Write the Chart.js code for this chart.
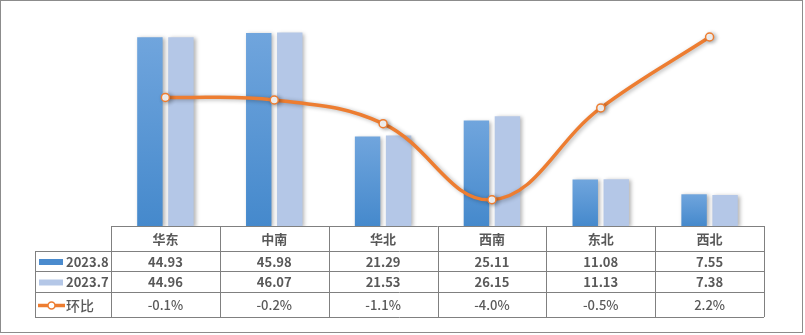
<!DOCTYPE html>
<html>
<head>
<meta charset="utf-8">
<script src="https://cdn.jsdelivr.net/npm/chart.js@4.4.0/dist/chart.umd.min.js"></script>
<style>
  body { margin: 0; background: #fff; }
  #wrap { position: relative; width: 805px; height: 335px; }
  #frame { position: absolute; left: 0; top: 0; width: 801px; height: 331px; border: 1px solid #8c8c8c; }
  #chart { position: absolute; left: 0; top: 0; }
</style>
</head>
<body>
<div id="wrap">
  <div id="frame"></div>
  <canvas id="chart" width="805" height="335"></canvas>
</div>
<script>
const regions = ["华东", "中南", "华北", "西南", "东北", "西北"];
const aug = [44.93, 45.98, 21.29, 25.11, 11.08, 7.55];
const jul = [44.96, 46.07, 21.53, 26.15, 11.13, 7.38];
const mom = [-0.1, -0.2, -1.1, -4.0, -0.5, 2.2];
const seriesNames = ["2023.8", "2023.7", "环比"];

const textColor = "#595959";
const lineColor = "#ED7D31";
const fontFamily = '"Noto Sans CJK SC", "Microsoft YaHei", sans-serif';

// gradient from top of each bar down to the baseline
function darkBar(ctx) {
  const chart = ctx.chart;
  if (!chart.chartArea || ctx.type !== "data") return "#5B9BD5";
  const yScale = chart.scales.y;
  const top = yScale.getPixelForValue(ctx.raw);
  const base = yScale.getPixelForValue(0);
  const g = chart.ctx.createLinearGradient(0, top, 0, base);
  g.addColorStop(0, "#70A5DD");
  g.addColorStop(1, "#4589CC");
  return g;
}

// soft drop shadow like the office chart
const shadowPlugin = {
  id: "shadow",
  beforeDatasetDraw(chart, args) {
    const ctx = chart.ctx;
    ctx.save();
    ctx.shadowColor = "rgba(0,0,0,0.3)";
    ctx.shadowBlur = 4;
    ctx.shadowOffsetX = 2;
    ctx.shadowOffsetY = 1;
  },
  afterDatasetDraw(chart) {
    chart.ctx.restore();
  }
};

// data table under the plot
const tablePlugin = {
  id: "dataTable",
  afterDraw(chart) {
    const ctx = chart.ctx;
    const x = chart.scales.x;
    const area = chart.chartArea;
    const colW = (area.right - area.left) / regions.length;
    const legendLeft = 35;
    const rows = [area.bottom, area.bottom + 25, area.bottom + 45, area.bottom + 66, area.bottom + 91];

    ctx.save();
    ctx.strokeStyle = "#808080";
    ctx.lineWidth = 1;
    ctx.beginPath();
    // horizontal lines
    ctx.moveTo(area.left, rows[0] + 0.5);
    ctx.lineTo(area.right, rows[0] + 0.5);
    for (let r = 1; r < rows.length; r++) {
      ctx.moveTo(legendLeft, rows[r] + 0.5);
      ctx.lineTo(area.right, rows[r] + 0.5);
    }
    // vertical lines
    ctx.moveTo(legendLeft + 0.5, rows[1]);
    ctx.lineTo(legendLeft + 0.5, rows[4]);
    for (let i = 0; i <= regions.length; i++) {
      const px = Math.round(area.left + i * colW) + 0.5;
      ctx.moveTo(px, rows[0]);
      ctx.lineTo(px, rows[4]);
    }
    ctx.stroke();

    ctx.fillStyle = textColor;
    ctx.textAlign = "center";
    ctx.textBaseline = "middle";
    const rowMid = (r) => (rows[r] + rows[r + 1]) / 2 + 1;
    regions.forEach((name, i) => {
      const cx = x.getPixelForValue(i);
      ctx.font = "bold 13px " + fontFamily;
      ctx.fillText(name, cx, rowMid(0));
      ctx.fillText(aug[i].toFixed(2), cx, rowMid(1));
      ctx.fillText(jul[i].toFixed(2), cx, rowMid(2));
      ctx.font = "500 13px " + fontFamily;
      ctx.fillText(mom[i].toFixed(1) + "%", cx, rowMid(3));
    });

    // legend keys
    ctx.fillStyle = "#4A8BCE";
    ctx.fillRect(39, rowMid(1) - 3, 24, 6);
    ctx.fillStyle = "#B4C7E7";
    ctx.fillRect(39, rowMid(2) - 3, 24, 6);
    ctx.strokeStyle = lineColor;
    ctx.lineWidth = 3.5;
    ctx.beginPath();
    ctx.moveTo(38, rowMid(3));
    ctx.lineTo(65, rowMid(3));
    ctx.stroke();
    ctx.beginPath();
    ctx.arc(51.5, rowMid(3), 3.5, 0, Math.PI * 2);
    ctx.fillStyle = "#fff";
    ctx.fill();
    ctx.lineWidth = 1.5;
    ctx.stroke();

    ctx.fillStyle = textColor;
    ctx.textAlign = "left";
    ctx.font = "bold 13px " + fontFamily;
    ctx.fillText(seriesNames[0], 66, rowMid(1));
    ctx.fillText(seriesNames[1], 66, rowMid(2));
    ctx.font = "500 14px " + fontFamily;
    ctx.fillText(seriesNames[2], 66, rowMid(3));
    ctx.restore();
  }
};

new Chart(document.getElementById("chart"), {
  type: "bar",
  plugins: [shadowPlugin, tablePlugin],
  data: {
    labels: regions,
    datasets: [
      {
        type: "line",
        label: seriesNames[2],
        data: mom,
        yAxisID: "y1",
        order: 0,
        borderColor: lineColor,
        borderWidth: 3.5,
        tension: 0.4,
        pointRadius: 4,
        pointBorderWidth: 1.5,
        pointBackgroundColor: "#fff",
        pointBorderColor: lineColor
      },
      {
        label: seriesNames[0],
        data: aug,
        yAxisID: "y",
        order: 1,
        backgroundColor: darkBar,
        categoryPercentage: 0.57,
        barPercentage: 0.82
      },
      {
        label: seriesNames[1],
        data: jul,
        yAxisID: "y",
        order: 1,
        backgroundColor: "#B4C7E7",
        categoryPercentage: 0.57,
        barPercentage: 0.82
      }
    ]
  },
  options: {
    responsive: false,
    animation: false,
    layout: { padding: { left: 111, right: 41, top: 16, bottom: 109 } },
    plugins: {
      legend: { display: false },
      tooltip: { enabled: false }
    },
    scales: {
      x: { display: false, offset: true },
      y: { display: false, min: 0, max: 50 },
      y1: { display: false, min: -5, max: 3, position: "right" }
    }
  }
});
</script>
</body>
</html>
